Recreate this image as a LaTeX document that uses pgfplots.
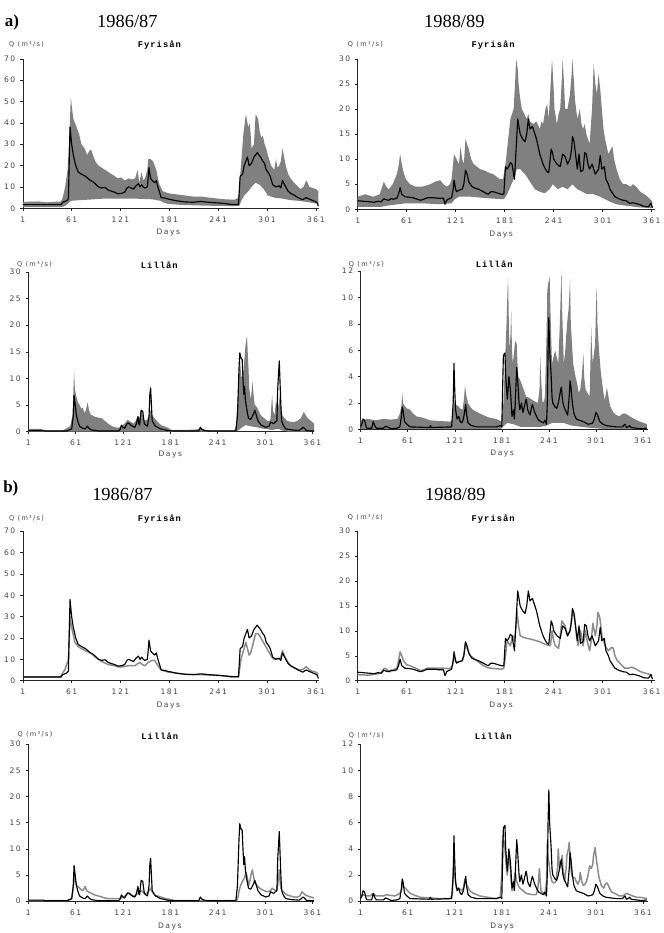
\documentclass[border=0pt]{standalone}
\usepackage{fontspec}
\setmainfont{Liberation Serif}
\newfontfamily\tickfam[LetterSpace=20]{DejaVu Sans}
\newfontfamily\titlefam[LetterSpace=12]{Liberation Mono}
\usepackage{pgfplots}
\usepackage{pgfplotstable}
\pgfplotsset{compat=1.18}
\usepgfplotslibrary{fillbetween}

\definecolor{bandgray}{gray}{0.50}
\definecolor{simgray}{gray}{0.55}
\definecolor{labgray}{gray}{0.28}

\newcommand{\tickfont}{\tickfam\fontsize{7.6}{8}\selectfont}
\newcommand{\qfont}{\tickfam\fontsize{6.6}{7}\selectfont}
\newcommand{\titlefont}{\titlefam\bfseries\fontsize{8.8}{9}\selectfont}

% ---------------- Fyrisån 1986/87 ----------------
\pgfplotstableread{
d q
1 1.7
48 1.7
50 2.8
55 3.6
57 4.5
59 38
61 30
63 25
66 20
69 17
73 16
78 15
81 14
84 13
87 12.5
90 11.5
94 10
98 9.5
102 9.8
106 8.5
110 8
114 7.5
118 6.8
122 7
126 7.5
129 9.5
131 10
134 9.5
137 9
140 10.5
143 11.5
145 10
147 11
149 10
151 9.5
154 10
155 14
156 19
158 14
160 13
163 12
165 13
167 10
169 7.5
171 5
175 4.8
180 4.3
184 4
190 3.5
200 3
210 2.8
220 3.2
225 3
230 2.8
241 2.5
250 2.2
257 1.8
266 1.8
268 15
271 16
273 20
277 24
279 20
282 21
285 24
289 26
291 25
293 24
296 22
298 21
300 18
302 17
305 15
308 11
312 10
316 10.5
318 9.5
320 13
324 10
327 8
330 7
335 6
339 5
345 4
349 5
352 4.5
355 4
358 3.5
361 3
363 2.5
364 1
}\obsFA

\pgfplotstableread{
d q
1 3
20 3.2
30 2.8
48 3.2
50 5
53 10
56 18
58 32
60 52
62 45
63 42
65 40
67 38
70 35
73 30
77 28
80 25
83 27
85 27.5
88 24
90 22
94 20
98 19
102 18
106 17
110 16
114 15
118 14
122 14.5
126 13
131 14
135 13.5
139 14
142 18
144 12
147 17
149 13
151 14
154 18
155 23
158 23
161 22
163 20
165 18
167 14
169 11
173 8
180 7
190 6.5
200 6
210 5.5
220 5.5
230 5
241 4.5
250 4.2
261 4
266 5
268 15
270 25
272 35
275 44
278 38
280 40
282 28
285 30
287 44
290 42
292 36
294 33
296 34
298 30
300 28
302 25
306 20
310 18
312 23
314 19
316 20
318 22
320 28
322 24
324 20
327 16
330 14
334 12
337 11
342 9
346 10
349 13
351 12
353 10
357 9.5
361 9
364 8
}\hiFA

\pgfplotstableread{
d q
1 0.5
48 0.5
52 1
56 2
60 3.5
70 3.8
80 4
100 4.5
120 4.5
140 4.5
160 4.2
170 3.5
175 2.5
180 2
200 1.5
230 1.2
260 1
267 1.2
270 4
273 6
277 7.5
282 10
287 12
292 11
297 9
302 6
310 5
320 4.5
330 3.8
340 3.5
350 3
364 2
}\loFA

\pgfplotstableread{
d q
1 1.8
47 1.8
49 3
53 5.4
57 10
59 30
61 25
65 18
69 16
73 15
78 14
84 13
90 11
98 9
106 7.5
114 7
118 6.5
124 6.5
131 7
139 7
142 8
145 8.5
148 7.5
151 7
155 8.5
157 9
160 9.5
163 9.5
167 7
171 5
180 4
190 3.5
200 3
220 2.8
241 2.5
255 2
266 1.8
269 10
272 14
275 18
277 15
279 12
281 13
283 16
285 19
287 22
290 22
292 21
295 19
298 17
301 15
304 13
307 11
310 10
313 10.5
316 10
318 11
320 14
322 12
326 9
330 7
334 6
338 5.5
342 5
346 5.5
349 6.5
352 5.5
356 4.5
361 4
364 3
}\simFA

% ---------------- Fyrisån 1988/89 ----------------
\pgfplotstableread{
d q
1 1.7
8 1.6
15 1.5
21 1.4
26 1.6
30 1.5
33 2.1
36 1.9
39 1.8
42 2.1
45 2
49 2.2
51 3
53 4.3
55 3
59 2.5
65 2.4
69 2.3
74 2
78 1.8
82 2
86 2.3
94 2.3
100 2.2
106 2.2
108 1
110 1.8
112 2
116 2.3
118 4
119 5.8
121 4
122 3.5
125 3.8
129 4
131 5
133 7.8
135 7
137 5.5
141 4.5
145 4.2
149 4
155 3.5
158 3.2
161 3
164 3.5
167 3.5
171 3.3
177 3
180 3
182 8.5
184 8
186 8.5
188 9.3
190 9
191 8
193 6
195 12
197 18
199 16
200 15
203 14
206 13.5
208 15
210 18
212 16
215 16.5
217 15.5
220 14
222 12.5
224 11
228 9
231 8
233 7.5
235 7.3
238 12
240 11
241 10
245 9
249 8.5
252 11
255 10.5
258 9
261 10
263 12
264 14.5
266 13.5
267 12
270 8
272 11
274 7.5
277 7.8
279 11.3
281 11
283 9
285 8
288 9
290 8
292 7
294 7.5
296 8
298 10.7
300 8
303 8.5
305 6
308 5
310 4
316 2.5
322 2
326 1.8
330 1.7
334 1.2
338 1.3
343 1.1
347 0.9
351 0.6
357 0.5
360 1.2
362 0.3
}\obsFB

\pgfplotstableread{
d q
1 2.5
10 3
20 2.5
28 3
30 4
33 5.5
36 4.5
39 4
44 5
49 7
51 8.5
53 11
55 9
57 7.5
60 6
65 5
72 4.5
80 4.5
90 5
96 5.5
102 5.8
106 5
110 4.5
114 5
116 6
119 11
122 10
125 9
127 12.5
129 10
131 9
133 14
135 13
137 12
140 10
143 9
147 8.5
151 8
155 7.8
159 7.5
163 7.2
167 7
171 6.5
175 6
179 6
182 9
184 12
186 15
188 18
190 19
192 20
194 26
195 30
197 28
198 25
200 22
202 20
205 19
208 18
210 19
212 17.5
216 17
220 17.5
224 16
226 17.5
228 17
231 20
233 21
235 18
237 24
239 30
241 24
242 20
245 17
247 19
249 20
251 26
252 30
254 24
255 20
258 20
261 23
263 27
264 30
266 25
267 22
270 18
273 20
275 17
277 16
279 17
281 15
285 13
288 20
290 29
292 25
294 23
296 27
298 24
300 20
302 16
304 14
308 11
311 12
313 12.5
315 10
318 8
322 6
326 5
330 5
335 4.5
338 5
342 4.5
347 3.5
352 3
356 2.5
359 2
362 1.5
}\hiFB

\pgfplotstableread{
d q
1 0.5
30 0.5
40 0.8
50 1
60 1.2
80 1.2
100 1
116 1.2
120 2
125 2.5
140 2.5
160 2.2
180 2
184 3
188 4.5
192 6
196 8
200 8
206 7
210 6
214 5
218 4
224 3.5
230 3.2
236 4
240 5
246 4
252 4.5
258 4
264 5
270 4
276 3.5
282 3
290 3
298 2.5
304 2
310 1.5
318 1
330 0.7
345 0.4
362 0.2
}\loFB

\pgfplotstableread{
d q
1 1.2
15 1.1
29 1.5
33 2.4
35 2.5
38 2
41 1.8
45 2.2
49 2.5
51 4
53 5.8
55 5
57 4
61 3.2
65 3
72 2.5
78 2
82 2.2
86 2.5
100 2.5
106 2.5
114 2.4
117 3
119 5
121 3.8
125 3.8
129 4
131 5
133 7.5
135 6.5
139 5
143 4.5
147 4
151 3.5
155 3
160 2.6
165 2.5
170 2.4
177 2.3
180 2.5
182 5
184 8
186 7.5
188 7
190 8.5
191 9
193 8
195 11
196 14
198 11
200 9
204 8.7
208 8.5
214 8.3
220 8
224 7.8
228 7.5
232 7.2
237 7
239 10
241 8
243 7
247 6.5
249 9
251 12
253 11.5
255 11
258 9
261 10
264 14
266 13
267 12
269 9
271 7
274 10
277 7
280 10
282 8
285 6
287 8
289 11.5
292 9
294 11
295 13.7
297 13
298 12
300 9
302 8
304 7
308 6
312 6.7
314 6.5
316 5
319 4
322 3.5
325 3
328 2.5
332 2.5
336 2.7
340 2.5
345 2
349 1.7
353 1.5
358 1.3
362 1.1
}\simFB

% ---------------- Lillån 1986/87 ----------------
\pgfplotstableread{
d q
1 0.2
20 0.2
22 0.1
50 0.1
53 0.3
56 0.5
58 3
59 6.8
60 5.5
62 3
64 1.8
66 1
70 0.6
73 0.5
76 1
78 0.6
81 0.3
90 0.1
115 0.1
117 0.3
119 1.2
121 0.8
123 0.6
125 1.2
127 1.6
129 1.5
131 1.2
134 0.9
136 0.8
138 1.5
140 2.8
141 1.5
142 1.2
144 4
146 3.8
148 1.5
150 1.2
152 1
154 3
155 7
156 8.2
157 5
158 2
160 1.5
162 1
165 0.8
168 0.5
172 0.4
177 0.2
185 0.1
217 0.1
219 0.8
221 0.4
224 0.2
228 0.1
264 0.1
266 3
268 12
269 14.8
270 14
272 13.5
273 10
274 7
275 8.5
276 6
278 4
280 2.5
283 2.3
286 3.2
288 4
290 3
292 2
296 1.2
302 0.8
306 1
308 1.8
310 1.6
312 1.5
314 1.8
316 2
317 8
319 13.3
320 9
321 5
322 2
324 1.2
327 0.5
335 0.3
344 0.2
347 0.5
349 0.8
351 0.6
353 0.2
358 0.1
363 0.1
}\obsLA

\pgfplotstableread{
d q
1 0.5
18 0.5
20 0.2
45 0.2
48 0.5
54 1
57 3
58 7
59 11.5
60 8
62 6.5
64 5.5
66 5
68 4.3
70 4.5
72 3.5
74 4
76 5.5
78 4
80 3.2
85 2.8
90 2.6
94 2.5
98 2
102 1.5
107 1
113 0.7
117 0.8
119 1
123 1.5
127 2.2
131 1.8
134 1.5
137 2
140 3
142 2.5
144 4.2
146 3
148 2
151 2.2
153 2.5
156 4
158 3
161 2.5
165 1.8
169 1.2
173 1
178 0.7
182 0.3
200 0.3
215 0.4
220 0.6
225 0.3
233 0.2
262 0.2
264 1
266 5
268 10
269 14
271 10
273 11
274 12
276 16
278 18
280 12
281 8
283 6
285 9.5
287 6
288 5
291 4.5
294 3.5
296 3
300 2.5
304 2
307 2
308 2.5
309 5
310 7
311 4
313 3
315 6
317 4
320 7
321 5
323 3
326 2.5
329 2
334 1.8
338 1.8
342 2
346 2.5
348 3
350 3.7
352 3.2
355 2.5
359 2
363 1.5
}\hiLA

\pgfplotstableread{
d q
1 0
264 0
268 0.3
272 0.8
276 1.2
282 1
290 0.8
300 0.5
310 0.3
318 0.5
322 0.2
330 0
363 0
}\loLA

\pgfplotstableread{
d q
1 0.1
50 0.1
54 0.3
56 0.5
58 2.5
59 5
60 4
62 3
64 2.8
66 2.5
68 2.2
70 2
72 2.5
73 2.8
75 2
77 1.8
81 1.5
85 1.2
90 1
94 0.8
98 0.6
102 0.5
110 0.5
116 0.5
119 0.6
121 0.8
124 1
127 1.5
130 1.4
133 1
136 1
140 1.5
144 2
146 1.8
148 1.5
152 1.5
154 2
156 2.5
158 1.8
161 1.2
165 1
169 0.8
175 0.5
182 0.3
186 0.1
265 0.1
267 1
268 2
270 3
273 4
275 4.5
277 5.5
279 4
280 3
282 4
283 5
285 6
286 5
288 3.5
291 3
294 2.5
297 2.2
300 2
304 1.8
308 2
310 2.5
312 2.2
315 2
317 3
319 6
320 4
321 2.5
323 2
326 1.5
329 1.2
333 1
338 0.8
342 0.8
345 1
348 1.8
350 1.5
352 1.2
355 1
359 0.8
363 0.6
}\simLA

% ---------------- Lillån 1988/89 ----------------
\pgfplotstableread{
d q
1 0.2
3 0.5
4 0.8
6 0.7
8 0.2
9 0.1
15 0.1
16 0.3
17 0.6
19 0.3
21 0.1
30 0.1
33 0.25
35 0.2
40 0.05
47 0.1
51 0.2
53 1
54 1.7
55 1.5
57 0.6
60 0.4
64 0.2
89 0.15
90 0.3
91 0.15
117 0.2
119 2
120 5
121 3
122 1.5
124 0.8
126 1
128 0.6
130 0.5
132 0.8
134 1.5
135 1.9
136 1.2
138 0.5
142 0.3
149 0.2
174 0.2
179 0.3
181 0.2
182 3
183 5.6
185 5.8
186 4
188 2.3
189 3
190 4
191 3.5
192 3
193 2
194 1
195 1.2
196 1.5
197 0.8
198 1.8
200 4.7
201 4
202 3
203 2
204 1.5
206 2
207 1.6
208 1.3
210 1.8
212 2.3
213 2
214 1.5
216 1.2
217 1.1
219 1.7
220 1.9
221 1.7
223 1.3
226 0.9
228 0.7
231 0.6
234 0.5
236 0.7
238 0.4
239 2
240 6
241 8.5
242 6
244 4
245 2.5
246 2
248 1.8
249 1.7
251 1.6
253 2
254 2.3
256 3
257 3.2
258 2.5
259 2
261 1.6
262 1.5
264 1.2
265 1.1
267 2.5
268 3.7
269 3.3
271 2
273 1.2
276 0.8
280 0.7
285 0.6
288 0.5
291 0.4
295 0.45
297 0.5
299 0.8
301 1.3
303 1.1
306 0.6
310 0.4
314 0.3
320 0.25
327 0.2
335 0.2
337 0.35
338 0.4
340 0.15
342 0.2
344 0.3
346 0.15
352 0.1
360 0.05
366 0.1
}\obsLB

\pgfplotstableread{
d q
1 0.7
10 0.8
20 0.7
30 0.8
40 0.75
48 0.8
51 1.2
53 1.8
54 2.8
55 2
57 1.8
60 1.6
64 1.5
68 1.2
72 1
80 0.9
89 0.7
100 0.65
115 0.6
118 0.7
119 1.5
120 2
122 1.9
125 1.8
128 1.6
131 1.5
133 2.5
134 3.3
136 2.5
138 2
141 1.7
144 1.5
150 1.3
157 1.1
165 0.9
174 0.8
181 0.6
182 1.5
183 2
185 5
187 8
188 10
189 11.6
190 8
191 6
192 7
193 9
194 6
195 5
196 5.5
198 6.7
200 6.5
201 5
202 4
204 3.8
206 3.5
209 3
212 2.5
216 2.4
221 2.2
224 2.1
227 2
229 3
230 5.5
231 4
233 2
235 2.2
236 2.5
238 7
239 10.5
240 11
242 11.6
243 9
245 5
247 5.5
249 6
251 5.5
253 5
255 8
257 12
258 9
260 5
262 6
263 7
265 8.5
266 9
267 10
268 11.4
269 8
271 6
272 5
275 4
277 3.5
279 2.8
281 3
283 4
285 5.8
286 4
288 3
291 2.7
293 2.5
294 5
295 7.8
296 6
297 5
299 6
300 6.5
301 9
302 10.8
303 8
305 6
307 4.5
309 3.5
312 2.2
314 2.8
315 3.2
317 2.5
319 1.8
323 1.3
327 1.1
331 1
335 1.2
339 1.2
344 1
350 0.8
357 0.6
362 0.5
366 0.4
}\hiLB

\pgfplotstableread{
d q
1 0.05
180 0.05
184 0.3
188 0.5
196 0.4
205 0.2
230 0.2
238 0.3
245 0.5
260 0.5
270 0.3
290 0.15
310 0.05
366 0.05
}\loLB

\pgfplotstableread{
d q
1 0.3
4 0.5
8 0.4
13 0.4
17 0.6
21 0.4
30 0.4
34 0.5
38 0.45
45 0.4
51 0.6
53 0.8
54 1.2
56 1.1
58 1
61 0.8
64 0.6
70 0.45
77 0.3
90 0.25
100 0.2
115 0.2
118 0.5
120 3.5
121 2
123 1
126 1
130 0.8
132 1
134 1.7
136 1.3
140 0.8
145 0.6
153 0.4
163 0.3
174 0.2
179 0.3
181 2
182 5
184 4.5
185 4
187 2.5
188 2
190 3.7
191 3
192 2.5
193 1.5
194 0.8
196 1.2
198 2.2
200 1.5
202 1.2
204 1
208 0.8
212 0.6
220 0.5
225 0.5
227 1
229 2.5
230 1.5
231 0.8
236 0.5
238 1.5
239 4.5
240 3.5
241 3
243 2
245 1.5
248 1.4
250 1.5
252 2.5
253 4
254 3
255 2.5
257 3
258 3.5
259 2.5
261 1.5
263 2.5
264 3.5
266 4
267 4.5
268 3.5
270 2
272 1.8
274 1.8
276 1.5
278 1.3
280 1.6
281 2.2
283 1.5
285 1.2
287 1.3
289 1.5
291 2
293 2.7
295 2.5
297 2.8
298 3.5
300 4.1
301 3.5
302 3
304 2.2
305 1.8
308 1.2
311 1
313 1.3
315 1.4
317 1.2
319 0.9
321 0.7
325 0.6
331 0.4
335 0.4
338 0.5
340 0.6
344 0.5
348 0.4
353 0.3
357 0.3
362 0.25
366 0.2
}\simLB

\pgfplotsset{
  panel/.style={
    scale only axis,
    anchor=south west,
    axis lines=left,
    axis line style={-, line width=0.6pt, black!85},
    xmin=1, ymin=0,
    xtick={1,61,...,361},
    tick align=outside,
    major tick length=2.5pt,
    tick style={black!85, line width=0.5pt},
    /pgf/number format/assume math mode=true,
    xticklabel style={font=\tickfont, text=labgray, yshift=-2.5pt},
    yticklabel style={font=\tickfont, text=labgray, xshift=-1.5pt},
    no markers,
  },
  obs/.style={black, line width=1.15pt, line join=round},
  sim/.style={simgray, line width=1.5pt, line join=round},
}

\begin{document}
\begin{tikzpicture}[x=1pt,y=1pt]
% page frame
\path (0,0) rectangle (661,-933);

% panel headings
\node[anchor=base, font=\bfseries\fontsize{17}{18}\selectfont] at (10,-27) {a)};
\node[anchor=base, font=\fontsize{18.5}{20}\selectfont] at (126,-28) {1986/87};
\node[anchor=base, font=\fontsize{18.5}{20}\selectfont] at (454,-28) {1988/89};
\node[anchor=base, font=\bfseries\fontsize{17}{18}\selectfont] at (9,-494) {b)};
\node[anchor=base, font=\fontsize{18.5}{20}\selectfont] at (121,-502) {1986/87};
\node[anchor=base, font=\fontsize{18.5}{20}\selectfont] at (455,-502) {1988/89};

% ===== a) Fyrisån 1986/87 =====
\begin{axis}[panel, name=pa1, at={(21pt,-209pt)}, width=297.3pt, height=150pt,
  xmax=365, ymax=70, ytick={0,10,...,70}]
  \addplot[draw=none, name path=hi] table[x=d,y=q] {\hiFA};
  \addplot[draw=none, name path=lo] table[x=d,y=q] {\loFA};
  \addplot[fill=bandgray, draw=none] fill between[of=hi and lo];
  \addplot[obs] table[x=d,y=q] {\obsFA};
\end{axis}
% ===== a) Fyrisån 1988/89 =====
\begin{axis}[panel, name=pa2, at={(357pt,-210pt)}, width=298.3pt, height=151pt,
  xmax=365, ymax=30, ytick={0,5,...,30}]
  \addplot[draw=none, name path=hi] table[x=d,y=q] {\hiFB};
  \addplot[draw=none, name path=lo] table[x=d,y=q] {\loFB};
  \addplot[fill=bandgray, draw=none] fill between[of=hi and lo];
  \addplot[obs] table[x=d,y=q] {\obsFB};
\end{axis}
% ===== a) Lillån 1986/87 =====
\begin{axis}[panel, name=pa3, at={(26.5pt,-433pt)}, width=286.7pt, height=160pt,
  xmax=363, ymax=30, ytick={0,5,...,30}]
  \addplot[draw=none, name path=hi] table[x=d,y=q] {\hiLA};
  \addplot[draw=none, name path=lo] table[x=d,y=q] {\loLA};
  \addplot[fill=bandgray, draw=none] fill between[of=hi and lo];
  \addplot[obs] table[x=d,y=q] {\obsLA};
\end{axis}
% ===== a) Lillån 1988/89 =====
\begin{axis}[panel, name=pa4, at={(360pt,-431pt)}, width=288pt, height=159pt,
  xmax=367, ymax=12, ytick={0,2,...,12}]
  \addplot[draw=none, name path=hi] table[x=d,y=q] {\hiLB};
  \addplot[draw=none, name path=lo] table[x=d,y=q] {\loLB};
  \addplot[fill=bandgray, draw=none] fill between[of=hi and lo];
  \addplot[obs] table[x=d,y=q] {\obsLB};
\end{axis}
% ===== b) Fyrisån 1986/87 =====
\begin{axis}[panel, name=pb1, at={(21pt,-683pt)}, width=297.3pt, height=150pt,
  xmax=365, ymax=70, ytick={0,10,...,70}]
  \addplot[sim] table[x=d,y=q] {\simFA};
  \addplot[obs] table[x=d,y=q] {\obsFA};
\end{axis}
% ===== b) Fyrisån 1988/89 =====
\begin{axis}[panel, name=pb2, at={(357pt,-683pt)}, width=298.3pt, height=150pt,
  xmax=365, ymax=30, ytick={0,5,...,30}]
  \addplot[sim] table[x=d,y=q] {\simFB};
  \addplot[obs] table[x=d,y=q] {\obsFB};
\end{axis}
% ===== b) Lillån 1986/87 =====
\begin{axis}[panel, name=pb3, at={(26.5pt,-904.3pt)}, width=286.7pt, height=157.6pt,
  xmax=363, ymax=30, ytick={0,5,...,30}]
  \addplot[sim] table[x=d,y=q] {\simLA};
  \addplot[obs] table[x=d,y=q] {\obsLA};
\end{axis}
% ===== b) Lillån 1988/89 =====
\begin{axis}[panel, name=pb4, at={(360pt,-904.3pt)}, width=288pt, height=157.6pt,
  xmax=367, ymax=12, ytick={0,2,...,12}]
  \addplot[sim] table[x=d,y=q] {\simLB};
  \addplot[obs] table[x=d,y=q] {\obsLB};
\end{axis}

% titles, unit labels and "Days"
\foreach \ax/\ttl/\tx/\ty/\qx/\qy/\dx/\dy in {
  pa1/Fyrisån/137/11/-14/12/146/26,
  pa2/Fyrisån/136/11/-10/12/144/27,
  pa3/Lillån/131.5/4/-11.5/5.5/142.5/25,
  pa4/Lillån/134/4/-12/5/142/26,
  pb1/Fyrisån/137/10/-14/11/146/27,
  pb2/Fyrisån/136/10/-10/12/144/27,
  pb3/Lillån/132/5/-11/7.5/142/27,
  pb4/Lillån/133/5/-12/7/142/27}{
  \node[anchor=base, font=\titlefont] at ([shift={(\tx pt,\ty pt)}]\ax.north west) {\ttl};
  \node[anchor=base west, font=\qfont, text=labgray, inner sep=0pt] at ([shift={(\qx pt,\qy pt)}]\ax.north west) {Q (m³/s)};
  \node[anchor=base, font=\tickfont, text=labgray] at ([shift={(\dx pt,-\dy pt)}]\ax.south west) {Days};
}
\end{tikzpicture}
\end{document}
